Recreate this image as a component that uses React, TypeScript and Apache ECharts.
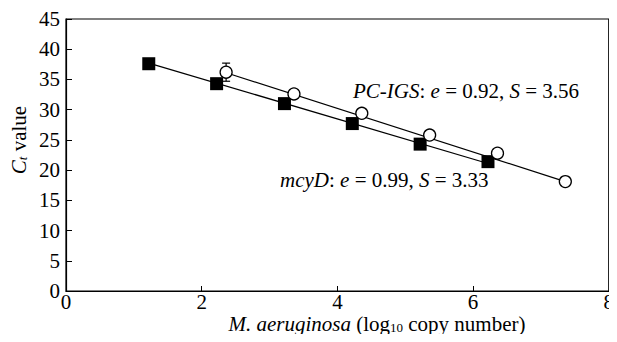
import React, { useEffect, useRef } from "react";
import * as echarts from "echarts";

const mcyDX = [1.22, 2.22, 3.22, 4.22, 5.22, 6.22];
const mcyDY = [37.6, 34.3, 31.0, 27.7, 24.3, 21.4];
const pcX = [2.36, 3.36, 4.36, 5.36, 6.36, 7.36];
const pcY = [36.2, 32.6, 29.4, 25.8, 22.8, 18.1];
const pcErr = [1.5, 0, 0, 0, 0, 0];
const mcyDFit = [[1.22, 37.7], [6.22, 21.1]];
const pcFit = [[2.36, 36.1], [7.36, 18.1]];
const xTicks = { min: 0, max: 8, interval: 2 };
const yTicks = { min: 0, max: 45, interval: 5 };

const FONT = "Liberation Serif";
const FS = 21;

export default function App() {
  const ref = useRef<HTMLDivElement>(null);
  useEffect(() => {
    const chart = echarts.init(ref.current!, null, { renderer: "svg" });
    const rich = {
      it: { fontStyle: "italic", fontSize: FS, fontFamily: FONT, color: "#000", lineHeight: 20 },
      n: { fontSize: FS, fontFamily: FONT, color: "#000", lineHeight: 20 },
      sub: { fontSize: 13, fontFamily: FONT, color: "#000", padding: [7, 0, 0, 0], lineHeight: 13 },
      subit: { fontSize: 13, fontStyle: "italic", fontFamily: FONT, color: "#000", padding: [7, 0, 0, 0], lineHeight: 13 },
    };
    chart.setOption({
      animation: false,
      textStyle: { fontFamily: FONT },
      grid: { left: 66, right: 5, top: 19, bottom: 51, show: true, borderColor: "#000", borderWidth: 1.2, containLabel: false },
      xAxis: {
        type: "value",
        min: xTicks.min,
        max: xTicks.max,
        interval: xTicks.interval,
        axisLine: { lineStyle: { color: "#000", width: 1.2 } },
        axisTick: { inside: true, length: 5, lineStyle: { color: "#000" } },
        axisLabel: { color: "#000", fontFamily: FONT, fontSize: FS, margin: 1, lineHeight: 20 },
        splitLine: { show: false },
      },
      yAxis: {
        type: "value",
        min: yTicks.min,
        max: yTicks.max,
        interval: yTicks.interval,
        axisLine: { show: true, lineStyle: { color: "#000", width: 1.2 } },
        axisTick: { show: true, inside: true, length: 6, lineStyle: { color: "#000" } },
        axisLabel: { color: "#000", fontFamily: FONT, fontSize: FS, margin: 6 },
        splitLine: { show: false },
      },
      series: [
        {
          type: "line",
          data: mcyDFit,
          showSymbol: false,
          lineStyle: { color: "#000", width: 1.2 },
          z: 2,
        },
        {
          type: "line",
          data: pcFit,
          showSymbol: false,
          lineStyle: { color: "#000", width: 1.2 },
          z: 2,
        },
        {
          type: "custom",
          data: pcX.map((x, i) => [x, pcY[i], pcErr[i]]),
          z: 3,
          renderItem: (params: any, api: any) => {
            const e = api.value(2);
            if (!e) return null;
            const x = api.value(0);
            const y = api.value(1);
            const top = api.coord([x, y + e]);
            const bot = api.coord([x, y - e]);
            const style = { stroke: "#000", lineWidth: 1.2 };
            return {
              type: "group",
              children: [
                { type: "line", shape: { x1: top[0], y1: top[1], x2: bot[0], y2: bot[1] }, style },
                { type: "line", shape: { x1: top[0] - 4, y1: top[1], x2: top[0] + 4, y2: top[1] }, style },
                { type: "line", shape: { x1: bot[0] - 4, y1: bot[1], x2: bot[0] + 4, y2: bot[1] }, style },
              ],
            };
          },
        },
        {
          type: "scatter",
          data: mcyDX.map((x, i) => [x, mcyDY[i]]),
          symbol: "rect",
          symbolSize: 13,
          itemStyle: { color: "#000", opacity: 1 },
          z: 4,
        },
        {
          type: "scatter",
          data: pcX.map((x, i) => [x, pcY[i]]),
          symbol: "circle",
          symbolSize: 12,
          itemStyle: { color: "#fff", borderColor: "#000", borderWidth: 1.3, opacity: 1 },
          z: 5,
        },
      ],
      graphic: [
        {
          type: "text",
          left: 353,
          top: 80,
          style: {
            text: "{it|PC-IGS}{n|: }{it|e}{n| = 0.92, }{it|S}{n| = 3.56}",
            rich,
          },
        },
        {
          type: "text",
          left: 280,
          top: 169,
          style: {
            text: "{it|mcyD}{n|: }{it|e}{n| = 0.99, }{it|S}{n| = 3.33}",
            rich,
          },
        },
        {
          type: "text",
          x: 377,
          y: 324,
          style: {
            text: "{it|M. aeruginosa}{n| (log}{sub|10}{n| copy number)}",
            rich,
            align: "center",
            verticalAlign: "middle",
          },
        },
        {
          type: "text",
          x: 19,
          y: 140,
          rotation: Math.PI / 2,
          style: {
            text: "{it|C}{subit|t}{n| value}",
            rich,
            align: "center",
            verticalAlign: "middle",
          },
        },
      ],
    });
    return () => chart.dispose();
  }, []);
  return <div ref={ref} style={{ width: 617, height: 342, margin: -8 }} />;
}
